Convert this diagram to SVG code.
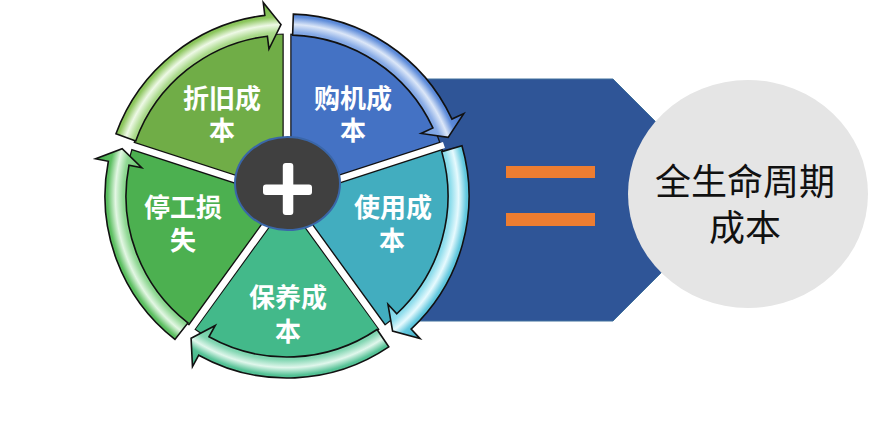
<svg xmlns="http://www.w3.org/2000/svg" width="880" height="423" viewBox="0 0 880 423">
<defs>
<style>
.lbl{font-family:"Noto Sans CJK SC","Noto Sans",sans-serif;font-size:26px;font-weight:bold;fill:#ffffff;text-anchor:middle}
.big{font-family:"Noto Sans CJK SC","Noto Sans",sans-serif;font-size:36px;fill:#111111;text-anchor:middle}
.wedge{stroke:#111111;stroke-width:1.2}
.arrow{stroke:#111111;stroke-width:1.6;stroke-linejoin:miter}
.gapb{stroke:#111111;stroke-width:9;fill:none}
.gapw{stroke:#ffffff;stroke-width:6.5;fill:none}
</style>
<radialGradient id="gZ" gradientUnits="userSpaceOnUse" cx="287" cy="196" r="195">
<stop offset="0.76" stop-color="#8FCB63"/><stop offset="0.84" stop-color="#A9D98A"/><stop offset="0.88" stop-color="#EEF9E6"/><stop offset="0.92" stop-color="#8CC65D"/><stop offset="1" stop-color="#6FAE45"/>
</radialGradient>
<radialGradient id="gG" gradientUnits="userSpaceOnUse" cx="287" cy="196" r="195">
<stop offset="0.76" stop-color="#6F9BE0"/><stop offset="0.84" stop-color="#86AAE6"/><stop offset="0.88" stop-color="#DCE7F8"/><stop offset="0.92" stop-color="#5E8CDA"/><stop offset="1" stop-color="#3F6CC0"/>
</radialGradient>
<radialGradient id="gS" gradientUnits="userSpaceOnUse" cx="287" cy="196" r="195">
<stop offset="0.76" stop-color="#6ECFE2"/><stop offset="0.84" stop-color="#8FDDEC"/><stop offset="0.88" stop-color="#E6FAFE"/><stop offset="0.92" stop-color="#62C8DE"/><stop offset="1" stop-color="#3FA9C0"/>
</radialGradient>
<radialGradient id="gB" gradientUnits="userSpaceOnUse" cx="287" cy="196" r="195">
<stop offset="0.76" stop-color="#5DC79A"/><stop offset="0.84" stop-color="#82D6B2"/><stop offset="0.88" stop-color="#E0F7EC"/><stop offset="0.92" stop-color="#55C296"/><stop offset="1" stop-color="#3BAE80"/>
</radialGradient>
<radialGradient id="gT" gradientUnits="userSpaceOnUse" cx="287" cy="196" r="195">
<stop offset="0.76" stop-color="#66C56A"/><stop offset="0.84" stop-color="#8ED792"/><stop offset="0.88" stop-color="#E3F7E4"/><stop offset="0.92" stop-color="#5CBF61"/><stop offset="1" stop-color="#44A94A"/>
</radialGradient>
</defs>

<g id="hexagon">
<polygon points="380,79 613,79 734,200 613,321 380,321" fill="#2F5597" stroke="#41719C" stroke-width="1"/>
</g>

<g id="equals">
<rect x="506" y="166" width="89" height="12" fill="#ED7D31"/>
<rect x="506" y="213" width="89" height="13" fill="#ED7D31"/>
</g>

<g id="total">
<ellipse cx="748" cy="194" rx="120" ry="114" fill="#E5E5E5"/>
<text class="big"><tspan x="745" y="195">全生命周期</tspan><tspan x="745" y="241">成本</tspan></text>
</g>

<g id="node-zhejiu">
<path class="wedge" d="M287,196 L132.93,145.94 A162,162 0 0 1 287,34 Z" fill="#70AD47"/>
</g>
<g id="node-gouji">
<path class="wedge" d="M287,196 L287,34 A162,162 0 0 1 441.07,145.94 Z" fill="#4472C4"/>
</g>
<g id="node-shiyong">
<path class="wedge" d="M287,196 L441.07,145.94 A162,162 0 0 1 382.22,327.06 Z" fill="#42ADBF"/>
</g>
<g id="node-baoyang">
<path class="wedge" d="M287,196 L382.22,327.06 A162,162 0 0 1 191.78,327.06 Z" fill="#43B98A"/>
</g>
<g id="node-tinggong">
<path class="wedge" d="M287,196 L191.78,327.06 A162,162 0 0 1 132.93,145.94 Z" fill="#4CB050"/>
</g>

<g id="gaps">
<path class="gapb" d="M287,196 L132.93,145.94 M287,196 L287,34 M287,196 L441.07,145.94 M287,196 L382.22,327.06 M287,196 L191.78,327.06"/>
<path class="gapw" d="M287,196 L130,145 M287,196 L287,30 M287,196 L444,145 M287,196 L384,330 M287,196 L190,330"/>
</g>

<g id="connectors">
<path class="arrow" fill="url(#gZ)" d="M115.98,133.75 A182,182 0 0 1 264.82,15.36 L263.24,2.45 L281.01,24.60 L268.96,49.10 L267.38,36.20 A161,161 0 0 0 135.71,140.93 Z"/>
<path class="arrow" fill="url(#gG)" d="M293.35,14.11 A182,182 0 0 1 451.95,119.08 L463.73,113.59 L448.16,137.34 L421.13,133.45 L432.92,127.96 A161,161 0 0 0 292.62,35.10 Z"/>
<path class="arrow" fill="url(#gS)" d="M461.95,145.83 A182,182 0 0 1 411.12,329.11 L419.99,338.61 L392.59,331.14 L387.94,304.24 L396.80,313.75 A161,161 0 0 0 441.76,151.62 Z"/>
<path class="arrow" fill="url(#gB)" d="M388.77,346.89 A182,182 0 0 1 198.76,355.18 L192.46,366.55 L191.10,338.18 L215.25,325.44 L208.95,336.81 A161,161 0 0 0 377.03,329.48 Z"/>
<path class="arrow" fill="url(#gT)" d="M174.95,339.42 A182,182 0 0 1 108.34,161.27 L95.58,158.79 L122.14,148.73 L141.72,167.76 L128.96,165.28 A161,161 0 0 0 187.88,322.87 Z"/>
</g>

<g id="plus">
<ellipse cx="287.5" cy="183.5" rx="52.5" ry="46.5" fill="#404040" stroke="#3A66A8" stroke-width="2"/>
<rect x="263" y="184.5" width="49" height="10.5" rx="3" fill="#ffffff"/>
<rect x="282.8" y="163" width="10.5" height="52" rx="3" fill="#ffffff"/>
</g>

<g id="labels">
<text class="lbl"><tspan x="222" y="108">折旧成</tspan><tspan x="222" y="140">本</tspan></text>
<text class="lbl"><tspan x="353" y="108">购机成</tspan><tspan x="353" y="140">本</tspan></text>
<text class="lbl"><tspan x="393" y="217">使用成</tspan><tspan x="392" y="250">本</tspan></text>
<text class="lbl"><tspan x="183" y="217">停工损</tspan><tspan x="183" y="250">失</tspan></text>
<text class="lbl"><tspan x="288" y="307">保养成</tspan><tspan x="288" y="341">本</tspan></text>
</g>
</svg>
